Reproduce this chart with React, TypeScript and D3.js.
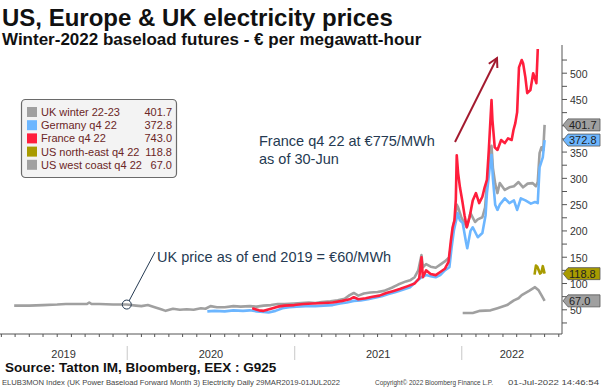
import React from "react";
import * as d3 from "d3";

// ---------- DATA ----------
const ukWinter: [string, number][] = [
  ["2019-04-29", 58], ["2019-06-01", 58], ["2019-07-01", 59], ["2019-08-01", 60], ["2019-08-20", 61],
  ["2019-09-10", 61], ["2019-10-05", 61], ["2019-10-10", 64], ["2019-10-15", 61], ["2019-11-01", 61],
  ["2019-12-01", 60], ["2019-12-31", 60], ["2020-01-20", 58], ["2020-02-01", 57], ["2020-02-15", 59],
  ["2020-03-01", 55], ["2020-03-15", 51], ["2020-03-25", 48], ["2020-04-10", 52], ["2020-04-25", 50],
  ["2020-05-10", 51], ["2020-05-25", 50], ["2020-06-10", 53], ["2020-06-20", 52], ["2020-07-01", 57],
  ["2020-07-15", 55], ["2020-08-01", 55], ["2020-08-20", 57], ["2020-09-05", 56], ["2020-09-25", 57],
  ["2020-10-10", 56], ["2020-10-25", 58], ["2020-11-10", 59], ["2020-11-25", 61], ["2020-12-10", 61],
  ["2020-12-31", 62], ["2021-01-15", 63], ["2021-02-01", 64], ["2021-02-15", 63], ["2021-03-01", 65],
  ["2021-03-20", 66], ["2021-04-05", 68], ["2021-04-20", 71], ["2021-05-01", 78], ["2021-05-10", 82],
  ["2021-05-20", 77], ["2021-06-01", 81], ["2021-06-15", 83], ["2021-07-01", 84], ["2021-07-15", 86],
  ["2021-08-01", 92], ["2021-08-15", 98], ["2021-09-01", 104], ["2021-09-10", 106], ["2021-09-20", 112],
  ["2021-09-28", 125], ["2021-10-05", 154], ["2021-10-08", 131], ["2021-10-15", 137], ["2021-10-25", 132],
  ["2021-11-05", 130], ["2021-11-15", 136], ["2021-11-25", 142], ["2021-12-05", 150], ["2021-12-10", 185],
  ["2021-12-15", 215], ["2021-12-18", 226], ["2021-12-21", 250], ["2021-12-24", 245], ["2021-12-31", 226],
  ["2022-01-07", 215], ["2022-01-12", 207], ["2022-01-20", 234], ["2022-01-30", 217], ["2022-02-05", 222],
  ["2022-02-15", 226], ["2022-02-21", 245], ["2022-02-25", 291], ["2022-03-01", 330], ["2022-03-04", 352],
  ["2022-03-07", 362], ["2022-03-10", 320], ["2022-03-15", 290], ["2022-03-20", 272], ["2022-03-25", 291],
  ["2022-04-05", 278], ["2022-04-15", 283], ["2022-04-25", 285], ["2022-05-05", 293], ["2022-05-15", 283],
  ["2022-05-25", 290], ["2022-06-05", 291], ["2022-06-12", 285], ["2022-06-16", 293], ["2022-06-20", 348],
  ["2022-06-24", 359], ["2022-06-28", 353], ["2022-07-01", 401.7],
];

const germany: [string, number][] = [
  ["2020-06-24", 47], ["2020-07-10", 48], ["2020-08-01", 47], ["2020-08-20", 49], ["2020-09-10", 48],
  ["2020-09-25", 49], ["2020-10-10", 47], ["2020-10-25", 46], ["2020-11-05", 45], ["2020-11-20", 48],
  ["2020-12-05", 53], ["2020-12-20", 55], ["2021-01-05", 56], ["2021-01-25", 57], ["2021-02-15", 57],
  ["2021-03-05", 58], ["2021-03-25", 59], ["2021-04-10", 62], ["2021-04-25", 64], ["2021-05-10", 67],
  ["2021-05-25", 68], ["2021-06-10", 70], ["2021-06-25", 73], ["2021-07-10", 76], ["2021-07-25", 80],
  ["2021-08-10", 84], ["2021-08-25", 88], ["2021-09-10", 93], ["2021-09-25", 105], ["2021-10-05", 112],
  ["2021-10-15", 116], ["2021-10-25", 114], ["2021-11-05", 112], ["2021-11-15", 116], ["2021-11-25", 125],
  ["2021-12-05", 131], ["2021-12-10", 170], ["2021-12-15", 202], ["2021-12-21", 225], ["2021-12-23", 234],
  ["2021-12-28", 220], ["2022-01-03", 215], ["2022-01-10", 180], ["2022-01-13", 167], ["2022-01-20", 200],
  ["2022-01-25", 207], ["2022-02-05", 188], ["2022-02-15", 196], ["2022-02-22", 230], ["2022-02-25", 272],
  ["2022-03-03", 320], ["2022-03-07", 345], ["2022-03-10", 300], ["2022-03-15", 250], ["2022-03-20", 240],
  ["2022-03-25", 250], ["2022-04-05", 262], ["2022-04-15", 253], ["2022-04-25", 258], ["2022-05-02", 240],
  ["2022-05-10", 262], ["2022-05-20", 258], ["2022-06-01", 252], ["2022-06-10", 255], ["2022-06-16", 253],
  ["2022-06-20", 321], ["2022-06-27", 340], ["2022-07-01", 372.8],
];

const france: [string, number][] = [
  ["2020-09-30", 53], ["2020-10-15", 49], ["2020-10-25", 48], ["2020-11-10", 52], ["2020-11-25", 56],
  ["2020-12-10", 58], ["2020-12-31", 59], ["2021-01-20", 61], ["2021-02-10", 62], ["2021-03-05", 63],
  ["2021-03-25", 64], ["2021-04-15", 67], ["2021-05-01", 70], ["2021-05-10", 74], ["2021-05-20", 70],
  ["2021-06-05", 72], ["2021-06-20", 75], ["2021-07-05", 77], ["2021-07-20", 82], ["2021-08-05", 86],
  ["2021-08-20", 90], ["2021-09-05", 95], ["2021-09-20", 100], ["2021-09-30", 110], ["2021-10-05", 150],
  ["2021-10-08", 112], ["2021-10-15", 125], ["2021-10-25", 118], ["2021-11-05", 116], ["2021-11-15", 122],
  ["2021-11-25", 128], ["2021-12-03", 141], ["2021-12-08", 180], ["2021-12-12", 207], ["2021-12-16", 220],
  ["2021-12-19", 260], ["2021-12-21", 344], ["2021-12-24", 310], ["2021-12-28", 283], ["2022-01-02", 258],
  ["2022-01-07", 230], ["2022-01-12", 207], ["2022-01-18", 226], ["2022-01-25", 258], ["2022-02-01", 272],
  ["2022-02-08", 253], ["2022-02-15", 265], ["2022-02-20", 283], ["2022-02-25", 297], ["2022-03-01", 353],
  ["2022-03-07", 449], ["2022-03-09", 411], ["2022-03-14", 359], ["2022-03-20", 354], ["2022-03-28", 373],
  ["2022-04-05", 367], ["2022-04-12", 376], ["2022-04-20", 373], ["2022-04-24", 392], ["2022-04-28", 405],
  ["2022-05-02", 426], ["2022-05-06", 511], ["2022-05-12", 525], ["2022-05-15", 519], ["2022-05-20", 492],
  ["2022-05-24", 462], ["2022-05-31", 468], ["2022-06-06", 500], ["2022-06-13", 481], ["2022-06-16", 544],
  ["2022-06-20", 743], ["2022-07-01", 743],
];

const usNorthEast: [string, number][] = [
  ["2022-06-09", 117], ["2022-06-12", 134], ["2022-06-15", 132], ["2022-06-21", 119], ["2022-06-24", 121],
  ["2022-06-27", 133], ["2022-07-01", 118.8],
];

const usWestCoast: [string, number][] = [
  ["2022-01-03", 44], ["2022-01-25", 44], ["2022-02-10", 48], ["2022-03-05", 49], ["2022-03-20", 53],
  ["2022-04-10", 59], ["2022-04-25", 68], ["2022-05-05", 72], ["2022-05-12", 78], ["2022-05-28", 86],
  ["2022-06-10", 93], ["2022-06-18", 87], ["2022-06-24", 78], ["2022-07-01", 67],
];

const seriesNames = ["UK winter 22-23", "Germany q4 22", "France q4 22", "US north-east q4 22", "US west coast q4 22"];
const lastValues = ["401.7", "372.8", "743.0", "118.8", "67.0"];
const seriesColors = ["#a0a0a0", "#6cb6ff", "#ff1e3c", "#a89b00", "#a0a0a0"];
const seriesData = [ukWinter, germany, france, usNorthEast, usWestCoast];
const tagged = [true, true, false, true, true];

const yTicks = d3.range(25, 550, 25);
const yLabels = [50, 100, 150, 200, 250, 300, 350, 450, 500];
const yearLabels = ["2019", "2020", "2021", "2022"];

// ---------- LAYOUT ----------
const W = 602;
const H = 390;
const plotLeft = 0;
const plotRight = 562;
const plotTop = 49;
const plotBottom = 334;

const parse = d3.timeParse("%Y-%m-%d");

export default function App() {
  const x = d3
    .scaleTime()
    .domain([parse("2019-03-29")!, parse("2022-08-08")!])
    .range([plotLeft, plotRight]);
  const y = d3.scaleLinear().domain([4, 546]).range([plotBottom, plotTop]);

  const line = d3
    .line<[string, number]>()
    .x((d) => x(parse(d[0])!))
    .y((d) => y(d[1]));

  const months = d3.timeMonth.range(parse("2019-04-01")!, parse("2022-08-09")!);
  const yearStarts = [parse("2020-01-01")!, parse("2021-01-01")!, parse("2022-01-01")!];
  const yearMid = [
    (plotLeft + x(yearStarts[0])) / 2,
    (x(yearStarts[0]) + x(yearStarts[1])) / 2,
    (x(yearStarts[1]) + x(yearStarts[2])) / 2,
    (x(yearStarts[2]) + plotRight) / 2,
  ];

  const font = "'Liberation Sans', Arial, sans-serif";
  const annoColor = "#253a52";
  const legendText = "#6b2626";

  // arrow
  const a0 = [455, 142];
  const a1 = [497, 58];
  const ang = Math.atan2(a1[1] - a0[1], a1[0] - a0[0]);
  const hl = 10;
  const w1 = [a1[0] - hl * Math.cos(ang - 0.5), a1[1] - hl * Math.sin(ang - 0.5)];
  const w2 = [a1[0] - hl * Math.cos(ang + 0.5), a1[1] - hl * Math.sin(ang + 0.5)];

  return (
    <svg
      width={W}
      height={H}
      style={{ position: "fixed", left: 0, top: 0, background: "#fff", fontFamily: font }}
    >
      <defs>
        <clipPath id="plotClip">
          <rect x={plotLeft} y={plotTop} width={plotRight - plotLeft} height={plotBottom - plotTop} />
        </clipPath>
      </defs>

      {/* Titles */}
      <text x={2} y={26} fontSize={24} fontWeight="bold" fill="#111">
        US, Europe &amp; UK electricity prices
      </text>
      <text x={2} y={45} fontSize={17} fontWeight="bold" fill="#111">
        Winter-2022 baseload futures - € per megawatt-hour
      </text>

      {/* Series */}
      <g clipPath="url(#plotClip)">
        {seriesData.map((s, i) => (
          <path
            key={i}
            d={line(s) || ""}
            fill="none"
            stroke={seriesColors[i]}
            strokeWidth={2.6}
            strokeLinejoin="round"
          />
        ))}
      </g>

      {/* X axis */}
      <line x1={plotLeft} x2={plotRight} y1={plotBottom} y2={plotBottom} stroke="#555" strokeWidth={1} />
      {months.map((m, i) => (
        <line key={i} x1={x(m)} x2={x(m)} y1={plotBottom} y2={plotBottom + 3} stroke="#555" strokeWidth={1} />
      ))}
      {yearStarts.map((d, i) => (
        <line key={i} x1={x(d)} x2={x(d)} y1={346} y2={360} stroke="#c8c8c8" strokeWidth={1} />
      ))}
      {yearLabels.map((t, i) => (
        <text key={t} x={yearMid[i]} y={358} fontSize={11} textAnchor="middle" fill="#333">
          {t}
        </text>
      ))}

      {/* Y axis (right) */}
      <line x1={plotRight} x2={plotRight} y1={plotTop - 4} y2={plotBottom} stroke="#555" strokeWidth={1} />
      {yTicks.map((v) => (
        <line key={v} x1={plotRight} x2={plotRight + 5} y1={y(v)} y2={y(v)} stroke="#555" strokeWidth={1} />
      ))}
      {yLabels.map((v) => (
        <text key={v} x={plotRight + 8} y={y(v) + 4.5} fontSize={10.5} fill="#333">
          {v}
        </text>
      ))}

      {/* Last-value tags */}
      {seriesData.map((s, i) => {
        if (!tagged[i]) return null;
        const cy = y(s[s.length - 1][1]);
        const h = 6;
        const pts = [
          [plotRight + 1, cy],
          [plotRight + 6, cy - h],
          [600, cy - h],
          [600, cy + h],
          [plotRight + 6, cy + h],
        ]
          .map((p) => p.join(","))
          .join(" ");
        return (
          <g key={i}>
            <polygon points={pts} fill={seriesColors[i]} stroke="#555" strokeWidth={0.8} />
            <text x={plotRight + 7} y={cy + 4} fontSize={11} fill="#222">
              {lastValues[i]}
            </text>
          </g>
        );
      })}

      {/* Legend */}
      <rect x={21.5} y={99.5} width={155} height={78} rx={4} fill="#f3f3f3" stroke="#6a6a6a" strokeWidth={1.2} />
      {seriesNames.map((n, i) => {
        const cy = 112 + i * 13.2;
        return (
          <g key={n}>
            <rect x={27} y={cy - 5} width={10} height={10} fill={seriesColors[i]} />
            <text x={41} y={cy + 4} fontSize={11} fill={legendText}>
              {n}
            </text>
            <text x={172} y={cy + 4} fontSize={11} fill={legendText} textAnchor="end">
              {lastValues[i]}
            </text>
          </g>
        );
      })}

      {/* Annotations */}
      <text x={259} y={146} fontSize={14.5} fill={annoColor}>
        France q4 22 at €775/MWh
      </text>
      <text x={259} y={164} fontSize={14.5} fill={annoColor}>
        as of 30-Jun
      </text>
      <line x1={a0[0]} y1={a0[1]} x2={a1[0]} y2={a1[1]} stroke="#a3192e" strokeWidth={2} />
      <polyline
        points={`${w1[0]},${w1[1]} ${a1[0]},${a1[1]} ${w2[0]},${w2[1]}`}
        fill="none"
        stroke="#a3192e"
        strokeWidth={2}
      />

      <text x={157} y={262} fontSize={14.5} fill={annoColor}>
        UK price as of end 2019 = €60/MWh
      </text>
      <line x1={155} y1={252} x2={129} y2={301} stroke={annoColor} strokeWidth={1} />
      <circle cx={x(parse("2019-12-31")!)} cy={y(60)} r={4.5} fill="none" stroke={annoColor} strokeWidth={1} />

      {/* Source & footer */}
      <text x={5} y={372} fontSize={13.5} fontWeight="bold" fill="#111">
        Source: Tatton IM, Bloomberg, EEX : G925
      </text>
      <text x={2} y={385} fontSize={7.5} fill="#444" textLength={338} lengthAdjust="spacingAndGlyphs">
        ELUB3MON Index (UK Power Baseload Forward Month 3) Electricity  Daily 29MAR2019-01JUL2022
      </text>
      <text x={375} y={385} fontSize={7.5} fill="#444" textLength={118} lengthAdjust="spacingAndGlyphs">
        Copyright© 2022 Bloomberg Finance L.P.
      </text>
      <text x={508} y={385} fontSize={7.5} fill="#444" textLength={91} lengthAdjust="spacingAndGlyphs">
        01-Jul-2022 14:46:54
      </text>
    </svg>
  );
}
